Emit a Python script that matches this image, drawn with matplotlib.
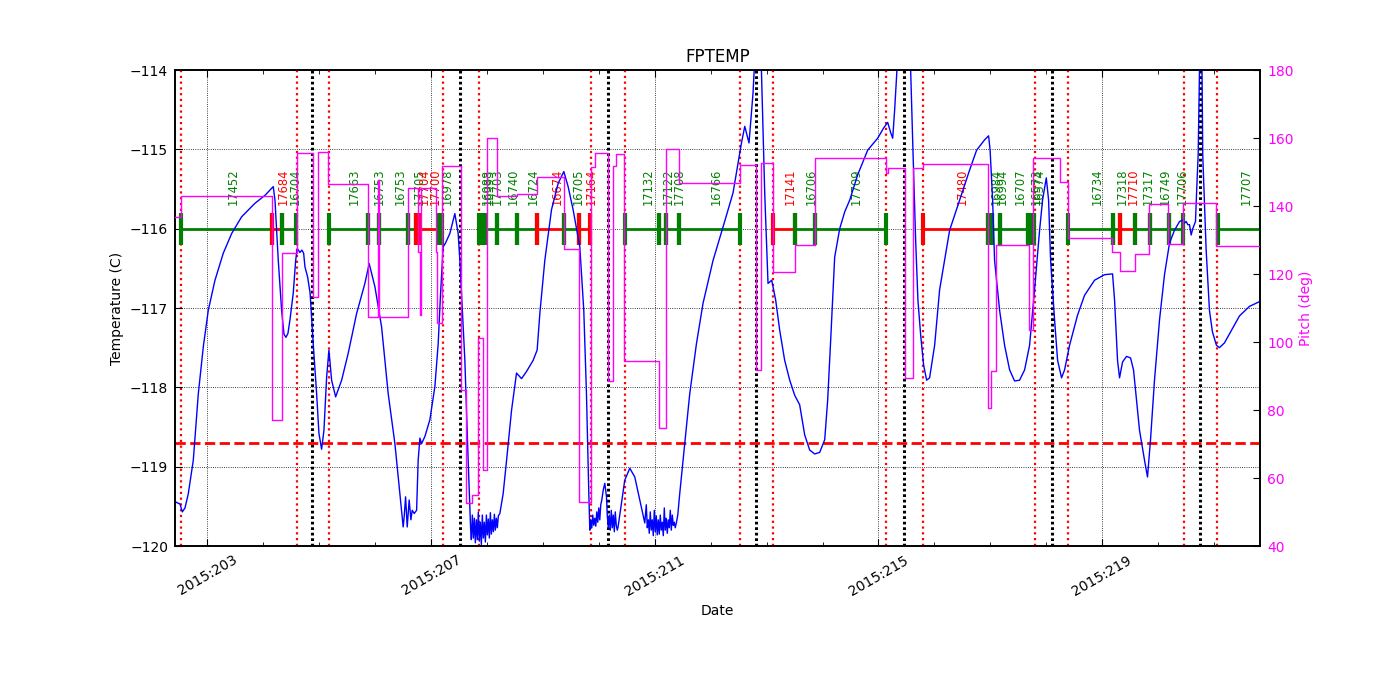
import matplotlib
matplotlib.use("Agg")
import matplotlib.pyplot as plt
from matplotlib.ticker import FixedLocator, MultipleLocator, FuncFormatter

# ---------------- data ----------------
temp_day = [202.419, 202.473, 202.508, 202.550, 202.598, 202.657, 202.746, 202.836, 202.925, 203.014,
            203.134, 203.282, 203.433, 203.611, 203.849, 204.028, 204.148, 204.176, 204.207, 204.266,
            204.326, 204.368, 204.403, 204.439, 204.475, 204.534, 204.577, 204.605, 204.653, 204.689,
            204.720, 204.743, 204.791, 204.835, 204.891, 204.952, 204.993, 205.041, 205.083, 205.131,
            205.172, 205.220, 205.292, 205.399, 205.517, 205.667, 205.815, 205.892, 205.994, 206.114,
            206.232, 206.352, 206.441, 206.500, 206.518, 206.543, 206.572, 206.607, 206.638, 206.661,
            206.697, 206.740, 206.768, 206.799, 206.829, 206.888, 206.977, 207.067, 207.126, 207.169,
            207.215, 207.258, 207.335, 207.424, 207.483, 207.514, 207.603, 207.662, 207.705,
            207.719, 207.737, 207.755, 207.773, 207.791, 207.809, 207.827, 207.844, 207.862, 207.880,
            207.898, 207.916, 207.934, 207.952, 207.970, 207.988, 208.005, 208.023, 208.041, 208.059,
            208.077, 208.095, 208.113, 208.131, 208.148, 208.166, 208.184, 208.202,
            208.229, 208.288, 208.349, 208.438, 208.527, 208.617, 208.706, 208.824, 208.896, 208.944,
            209.033, 209.153, 209.271, 209.373, 209.450, 209.539, 209.659, 209.730, 209.778, 209.820,
            209.838,
            209.855, 209.873, 209.891, 209.909, 209.927, 209.945, 209.962, 209.980, 209.998, 210.016,
            210.034, 210.052, 210.079, 210.106, 210.136, 210.150, 210.168, 210.186, 210.204, 210.222,
            210.240, 210.258, 210.276, 210.293, 210.311, 210.329, 210.343, 210.374, 210.404, 210.463,
            210.553, 210.642, 210.731, 210.821,
            210.848, 210.866, 210.884, 210.901, 210.919, 210.937, 210.955, 210.973, 210.991, 211.009,
            211.027, 211.044, 211.062, 211.080, 211.098, 211.116, 211.134, 211.152, 211.170, 211.187,
            211.205, 211.223, 211.241, 211.259, 211.277, 211.295, 211.313, 211.331, 211.348, 211.366,
            211.388, 211.411,
            211.446, 211.536, 211.625, 211.745, 211.863, 212.042, 212.220, 212.399, 212.550, 212.609,
            212.685, 212.757, 212.787, 212.832, 212.876, 212.907, 212.966, 213.025, 213.091, 213.162,
            213.234, 213.323, 213.413, 213.502, 213.591, 213.681, 213.770, 213.860, 213.949, 214.039,
            214.092, 214.146, 214.217, 214.307, 214.396, 214.486, 214.629, 214.808, 214.986, 215.094,
            215.165, 215.219, 215.255, 215.290, 215.326, 215.362, 215.469, 215.540, 215.576, 215.617,
            215.665, 215.706, 215.755, 215.808, 215.862, 215.915, 216.005, 216.094, 216.183, 216.273,
            216.452, 216.631, 216.756, 216.899, 216.970, 216.997, 217.042, 217.077, 217.167, 217.256,
            217.346, 217.435, 217.524, 217.614, 217.703, 217.792, 217.882, 217.935, 218.002, 218.043,
            218.079, 218.150, 218.204, 218.275, 218.329, 218.418, 218.561, 218.686, 218.865, 219.044,
            219.187, 219.223, 219.276, 219.312, 219.366, 219.437, 219.509, 219.562, 219.616, 219.669,
            219.759, 219.812, 219.866, 219.937, 220.027, 220.116, 220.206, 220.295, 220.385, 220.443,
            220.474, 220.504, 220.533, 220.563, 220.593, 220.622, 220.670, 220.693, 220.718, 220.742,
            220.764, 220.787, 220.800, 220.861, 220.920, 220.973, 221.045, 221.099, 221.188, 221.314,
            221.457, 221.635, 221.814, 221.850]

temp_val = [-119.44, -119.46, -119.47, -119.57, -119.52, -119.34, -118.92, -118.08, -117.49, -117.03,
            -116.65, -116.31, -116.06, -115.85, -115.68, -115.58, -115.49, -115.47, -115.64, -116.40,
            -117.03, -117.33, -117.37, -117.32, -117.15, -116.81, -116.40, -116.25, -116.30, -116.27,
            -116.31, -116.48, -116.61, -116.81, -117.45, -118.08, -118.58, -118.78, -118.54, -117.87,
            -117.53, -117.91, -118.12, -117.91, -117.57, -117.07, -116.69, -116.44, -116.73, -117.24,
            -118.08, -118.71, -119.34, -119.76, -119.63, -119.38, -119.76, -119.42, -119.67, -119.55,
            -119.59, -119.55, -118.92, -118.64, -118.71, -118.62, -118.41, -117.99, -117.45, -116.81,
            -116.23, -116.18, -116.06, -115.81, -116.06, -116.40, -117.66, -118.92, -119.76,
            -119.92, -119.61, -119.90, -119.65, -119.96, -119.67, -119.92, -119.57, -119.94, -119.70,
            -119.98, -119.61, -119.90, -119.70, -119.95, -119.61, -119.86, -119.66, -119.90, -119.58,
            -119.85, -119.67, -119.82, -119.60, -119.80, -119.65, -119.77, -119.62,
            -119.59, -119.34, -118.92, -118.29, -117.82, -117.89, -117.80, -117.66, -117.53, -117.07,
            -116.40, -115.76, -115.43, -115.28, -115.47, -115.76, -116.23, -117.03, -118.08, -119.34,
            -119.80,
            -119.67, -119.77, -119.61, -119.74, -119.65, -119.75, -119.57, -119.70, -119.52, -119.67,
            -119.48, -119.42, -119.29, -119.21, -119.38, -119.61, -119.77, -119.61, -119.80, -119.55,
            -119.77, -119.61, -119.82, -119.57, -119.74, -119.80, -119.76, -119.61, -119.46, -119.17,
            -119.02, -119.13, -119.42, -119.71,
            -119.48, -119.77, -119.67, -119.84, -119.57, -119.80, -119.67, -119.87, -119.55, -119.82,
            -119.62, -119.86, -119.67, -119.85, -119.61, -119.80, -119.70, -119.87, -119.52, -119.80,
            -119.65, -119.84, -119.67, -119.77, -119.55, -119.80, -119.61, -119.74, -119.70, -119.77,
            -119.70, -119.61,
            -119.34, -118.71, -118.08, -117.45, -116.94, -116.40, -115.98, -115.55, -114.92, -114.71,
            -114.92, -114.29, -113.87, -113.37, -113.43, -114.00, -115.55, -116.69, -116.65, -116.90,
            -117.28, -117.66, -117.91, -118.10, -118.22, -118.60, -118.79, -118.84, -118.82, -118.66,
            -118.16, -117.40, -116.36, -116.00, -115.79, -115.64, -115.32, -115.01, -114.86, -114.73,
            -114.66, -114.79, -114.86, -114.50, -114.06, -113.50, -113.12, -113.50, -114.00, -115.01,
            -116.14, -116.90, -117.34, -117.72, -117.91, -117.88, -117.47, -116.77, -116.40, -116.02,
            -115.64, -115.26, -115.01, -114.88, -114.83, -115.01, -115.64, -116.40, -117.03, -117.47,
            -117.78, -117.92, -117.91, -117.78, -117.47, -116.77, -116.02, -115.64, -115.36, -115.64,
            -116.40, -117.15, -117.66, -117.88, -117.78, -117.47, -117.09, -116.84, -116.65, -116.58,
            -116.57, -116.90, -117.66, -117.88, -117.68, -117.61, -117.63, -117.78, -118.16, -118.54,
            -118.92, -119.13, -118.66, -117.91, -117.15, -116.58, -116.18, -116.02, -115.91, -115.89,
            -115.93, -115.91, -115.95, -115.95, -116.08, -116.00, -115.91, -115.49, -115.07, -114.00,
            -113.37, -114.00, -115.07, -116.27, -117.03, -117.30, -117.47, -117.50, -117.44, -117.28,
            -117.10, -116.98, -116.92, -116.92]

pitch_day = [202.400, 202.526, 204.148, 204.337, 204.595, 204.881, 204.981, 205.159, 205.864, 206.057,
             206.075, 206.590, 206.758, 206.799, 206.817, 207.094, 207.112, 207.201, 207.526, 207.621,
             207.723, 207.841, 207.920, 207.991, 208.170, 208.538, 208.896, 209.373, 209.646, 209.868,
             209.927, 210.165, 210.254, 210.315, 210.445, 211.071, 211.209, 211.434, 212.532, 212.818,
             212.907, 213.109, 213.502, 213.860, 215.129, 215.165, 215.469, 215.612, 215.796, 216.958,
             217.006, 217.104, 217.685, 217.766, 218.239, 218.388, 219.169, 219.312, 219.580, 219.839,
             220.179, 220.447, 221.046, 221.850]
pitch_val = [136.9, 143.0, 77.1, 126.1, 155.7, 113.1, 156.0, 146.4, 107.5, 147.6,
             107.5, 145.2, 126.6, 108.0, 145.2, 126.6, 105.6, 151.8, 85.9, 52.6,
             55.1, 101.1, 62.4, 159.9, 142.8, 143.6, 148.6, 127.3, 52.8, 151.6,
             155.5, 88.4, 151.8, 155.3, 94.3, 74.7, 156.7, 146.9, 152.1, 91.8,
             152.6, 120.6, 128.6, 154.1, 149.6, 151.1, 89.5, 151.1, 152.4, 80.6,
             91.5, 128.6, 103.6, 154.0, 147.0, 130.5, 126.6, 120.9, 125.9, 140.7,
             128.9, 140.8, 128.1, 128.1]

obs_start = [202.526, 204.148, 204.337, 205.172, 205.864, 206.066, 206.590, 206.736, 206.790, 207.138,
             207.859, 207.902, 207.961, 208.170, 208.542, 208.890, 209.373, 209.646, 210.476, 211.071,
             211.196, 211.434, 213.114, 213.502, 213.860, 215.796, 216.961, 217.024, 217.167, 217.673,
             217.730, 218.388, 219.192, 219.312, 219.580, 219.848, 220.193, 221.069]
obs_stop = [204.148, 204.337, 204.577, 205.864, 206.066, 206.590, 206.736, 206.790, 207.138, 207.192,
            207.902, 207.961, 208.170, 208.542, 208.890, 209.373, 209.646, 209.850, 211.071, 211.196,
            211.434, 212.532, 213.502, 213.860, 215.129, 216.961, 217.024, 217.167, 217.673, 217.730,
            217.784, 219.192, 219.312, 219.580, 219.848, 220.193, 220.443, 221.850]
obs_id = ["17452", "17684", "16704", "17663", "16753", "16753", "17705", "17704", "17700", "16978",
          "16988", "16993", "17703", "16740", "16724", "16674", "16705", "17164", "17132", "17122",
          "17708", "16766", "17141", "16706", "17709", "17480", "16984", "16994", "16707", "16573",
          "16574", "16734", "17318", "17710", "17317", "16749", "17706", "17707"]
obs_hot = [False, True, False, False, False, False, False, True, True, False,
           False, False, False, False, False, True, False, True, False, False,
           False, False, True, False, False, True, False, False, False, False,
           False, False, False, True, False, False, False, False]

rad_edges = [202.535, 204.609, 205.176, 207.219, 207.862, 209.859, 210.471, 212.521, 213.116,
             215.142, 215.798, 217.801, 218.390, 220.471, 221.059]
perigees = [204.877, 207.516, 210.165, 212.814, 215.456, 218.104, 220.744]

planning_limit = -118.7
obs_level = -116.0
label_level = -115.7
date_ticks = [203, 207, 211, 215, 219]
xlim = (202.419, 221.824)

# ---------------- plot ----------------
plt.rcParams['font.family'] = ['DejaVu Sans']
plt.rcParams['font.size'] = 10

fig = plt.figure(figsize=(14, 7), dpi=100)
ax1 = fig.add_subplot(111)
fig.subplots_adjust(left=0.125, right=0.9, top=0.9, bottom=0.22)

for d in rad_edges:
    ax1.axvline(d, color='red', lw=1.6, linestyle=(0, (1.0, 1.6)), zorder=1)
for d in perigees:
    ax1.axvline(d, color='black', lw=2.2, linestyle=(0, (0.9, 0.9)), zorder=1)

ax1.axhline(planning_limit, color='red', lw=2, linestyle='--', zorder=2)

for s, e, oid, hot in zip(obs_start, obs_stop, obs_id, obs_hot):
    c = 'red' if hot else 'green'
    ax1.plot([s, e], [obs_level, obs_level], color=c, lw=2, marker='|', ms=23, mew=3,
             solid_capstyle='butt', zorder=3)
    ax1.text((s + e) / 2, label_level, oid, rotation=90, color=c, fontsize=8.3,
             ha='left', va='bottom', zorder=4, clip_on=True)

ax1.plot(temp_day, temp_val, color='blue', lw=1, zorder=5)

ax1.set_xlim(*xlim)
ax1.set_ylim(-120, -114)
ax1.xaxis.set_major_locator(FixedLocator(date_ticks))
ax1.xaxis.set_minor_locator(MultipleLocator(1))
ax1.xaxis.set_major_formatter(FuncFormatter(lambda v, p: "2015:%03d" % int(round(v))))
ax1.yaxis.set_major_locator(MultipleLocator(1))
ax1.grid(True, which='major', linestyle=':', color='black', lw=0.6)
ax1.tick_params(axis='x', which='major', direction='in', top=True, length=5, pad=5, labelrotation=30)
ax1.tick_params(axis='x', which='minor', direction='in', top=True, length=3)
ax1.tick_params(axis='y', which='major', direction='in', length=5, pad=5)
for lab in ax1.get_xticklabels():
    lab.set_ha('center')
ax1.set_xlabel('Date')
ax1.set_ylabel('Temperature (C)')
ax1.set_title('FPTEMP', fontsize=12)

ax2 = ax1.twinx()
ax2.plot(pitch_day, pitch_val, color='magenta', lw=1, drawstyle='steps-post', zorder=6)
ax2.set_ylim(40, 180)
ax2.yaxis.set_major_locator(MultipleLocator(20))
ax2.tick_params(axis='y', direction='in', length=5, pad=5, labelcolor='magenta')
ax2.set_ylabel('Pitch (deg)', color='magenta')
ax2.set_xlim(*xlim)

for ax in (ax1, ax2):
    for sp in ax.spines.values():
        sp.set_linewidth(1.2)

fig.savefig('out.png', dpi=100)
